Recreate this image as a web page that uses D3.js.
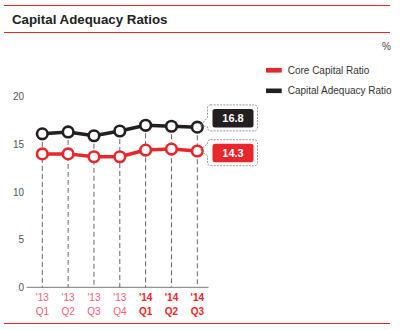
<!DOCTYPE html>
<html><head><meta charset="utf-8">
<script src="https://cdn.jsdelivr.net/npm/d3@7"></script>
<style>
html,body{margin:0;padding:0;background:#fff;}
svg{display:block;font-family:"Liberation Sans",Arial,Helvetica,sans-serif;}
</style></head>
<body>
<svg id="c" width="400" height="330"></svg>
<script>
const years = ["'13","'13","'13","'13","'14","'14","'14"];
const quarters = ["Q1","Q2","Q3","Q4","Q1","Q2","Q3"];
const categories = ["13Q1","13Q2","13Q3","13Q4","14Q1","14Q2","14Q3"];
const capitalAdequacy = [16.1, 16.3, 15.9, 16.4, 17.0, 16.9, 16.8];
const coreCapital = [14.0, 14.0, 13.7, 13.7, 14.4, 14.5, 14.3];
const yTicks = [0, 5, 10, 15, 20];
const seriesNames = ["Core Capital Ratio", "Capital Adequacy Ratio"];

const RED = "#e8262b", BLACK = "#231f20", PINK = "#f0607a";
const svg = d3.select("#c");

svg.append("line").attr("x1",4).attr("x2",390).attr("y1",5.5).attr("y2",5.5).attr("stroke",RED).attr("stroke-width",1.2);
svg.append("line").attr("x1",4).attr("x2",390).attr("y1",32.5).attr("y2",32.5).attr("stroke",RED).attr("stroke-width",1.2);
svg.append("line").attr("x1",4).attr("x2",390).attr("y1",323.5).attr("y2",323.5).attr("stroke",RED).attr("stroke-width",1.2);
svg.append("text").attr("x",12).attr("y",24.3).attr("font-size","13.3px").attr("font-weight","bold").attr("fill","#222").text("Capital Adequacy Ratios");
svg.append("text").attr("x",391).attr("y",50).attr("text-anchor","end").attr("font-size","10px").attr("fill","#444").text("%");

const x = d3.scalePoint().domain(categories).range([42.3, 197.3]);
const y = d3.scaleLinear().domain([0, 20]).range([287.3, 96.7]);

const yAxis = d3.axisLeft(y).tickValues(yTicks).tickSize(0).tickPadding(0).tickFormat(d3.format("d"));
const yg = svg.append("g").attr("transform","translate(24,0)").call(yAxis);
yg.select(".domain").remove();
yg.selectAll("text").attr("font-size","10px").attr("fill","#555").attr("font-family","Liberation Sans, Arial, sans-serif");

svg.append("line").attr("x1",26.7).attr("x2",208.5).attr("y1",y(0)).attr("y2",y(0)).attr("stroke","#777").attr("stroke-width",1);

svg.append("g").selectAll("line").data(categories).join("line")
  .attr("x1",d=>x(d)).attr("x2",d=>x(d))
  .attr("y1",(d,i)=>y(capitalAdequacy[i])).attr("y2",y(0))
  .attr("stroke","#666").attr("stroke-width",1).attr("stroke-dasharray","5,3");

const xl = svg.append("g").selectAll("text").data(categories).join("text")
  .attr("x",d=>x(d)).attr("text-anchor","middle").attr("font-size","10px")
  .attr("fill",(d,i)=> i>=4 ? RED : PINK).attr("font-weight",(d,i)=> i>=4 ? "bold" : "normal");
xl.append("tspan").attr("x",d=>x(d)).attr("y",300.5).text((d,i)=>years[i]);
xl.append("tspan").attr("x",d=>x(d)).attr("y",314.5).text((d,i)=>quarters[i]);

const line = d3.line().x((d,i)=>x(categories[i])).y(d=>y(d));
function drawSeries(vals, color){
  svg.append("path").datum(vals).attr("d",line).attr("fill","none").attr("stroke",color).attr("stroke-width",3.5).attr("stroke-linejoin","round");
  svg.append("g").selectAll("circle").data(vals).join("circle")
    .attr("cx",(d,i)=>x(categories[i])).attr("cy",d=>y(d)).attr("r",5.3)
    .attr("fill","#fff").attr("stroke",color).attr("stroke-width",2.6);
}
drawSeries(capitalAdequacy, BLACK);
drawSeries(coreCapital, RED);

function callout(value, color, cy){
  const n = categories.length-1;
  const px = x(categories[n]), py = y(value);
  const bx0 = px+10.2, bx1 = px+60.2, by0 = cy-13, by1 = cy+13, r = 3;
  const tipx = px+3, tipy = py-1;
  const a1 = Math.max(by0+r+1, tipy-9), a2 = Math.min(by1-r-1, tipy+6);
  const p = d3.path();
  p.moveTo(bx0+r, by0);
  p.lineTo(bx1-r, by0); p.arcTo(bx1,by0,bx1,by0+r,r);
  p.lineTo(bx1, by1-r); p.arcTo(bx1,by1,bx1-r,by1,r);
  p.lineTo(bx0+r, by1); p.arcTo(bx0,by1,bx0,by1-r,r);
  p.lineTo(bx0, a2); p.lineTo(tipx, tipy); p.lineTo(bx0, a1);
  p.lineTo(bx0, by0+r); p.arcTo(bx0,by0,bx0+r,by0,r);
  svg.append("path").attr("d",p.toString()).attr("fill","none").attr("stroke","#888").attr("stroke-width",0.9).attr("stroke-dasharray","2,1.2");
  svg.append("rect").attr("x",bx0+5).attr("y",cy-9).attr("width",41).attr("height",18.5).attr("rx",2.5).attr("fill",color);
  svg.append("text").attr("x",bx0+25.5).attr("y",cy+4.2).attr("text-anchor","middle").attr("font-size","11px").attr("font-weight","bold").attr("fill","#fff").text(d3.format(".1f")(value));
}
callout(capitalAdequacy[capitalAdequacy.length-1], BLACK, y(capitalAdequacy[capitalAdequacy.length-1]) - 9.3);
callout(coreCapital[coreCapital.length-1], RED, y(coreCapital[coreCapital.length-1]) + 1.7);

const legendColors = [RED, BLACK];
const lg = svg.append("g").selectAll("g").data(seriesNames).join("g")
  .attr("transform",(d,i)=>`translate(266,${70.3 + i*20.5})`);
lg.append("rect").attr("x",0).attr("y",-2.3).attr("width",15.7).attr("height",4.6).attr("fill",(d,i)=>legendColors[i]);
lg.append("text").attr("x",21.7).attr("y",3.6).attr("font-size","10px").attr("fill","#333").text(d=>d);
</script>
</body></html>
